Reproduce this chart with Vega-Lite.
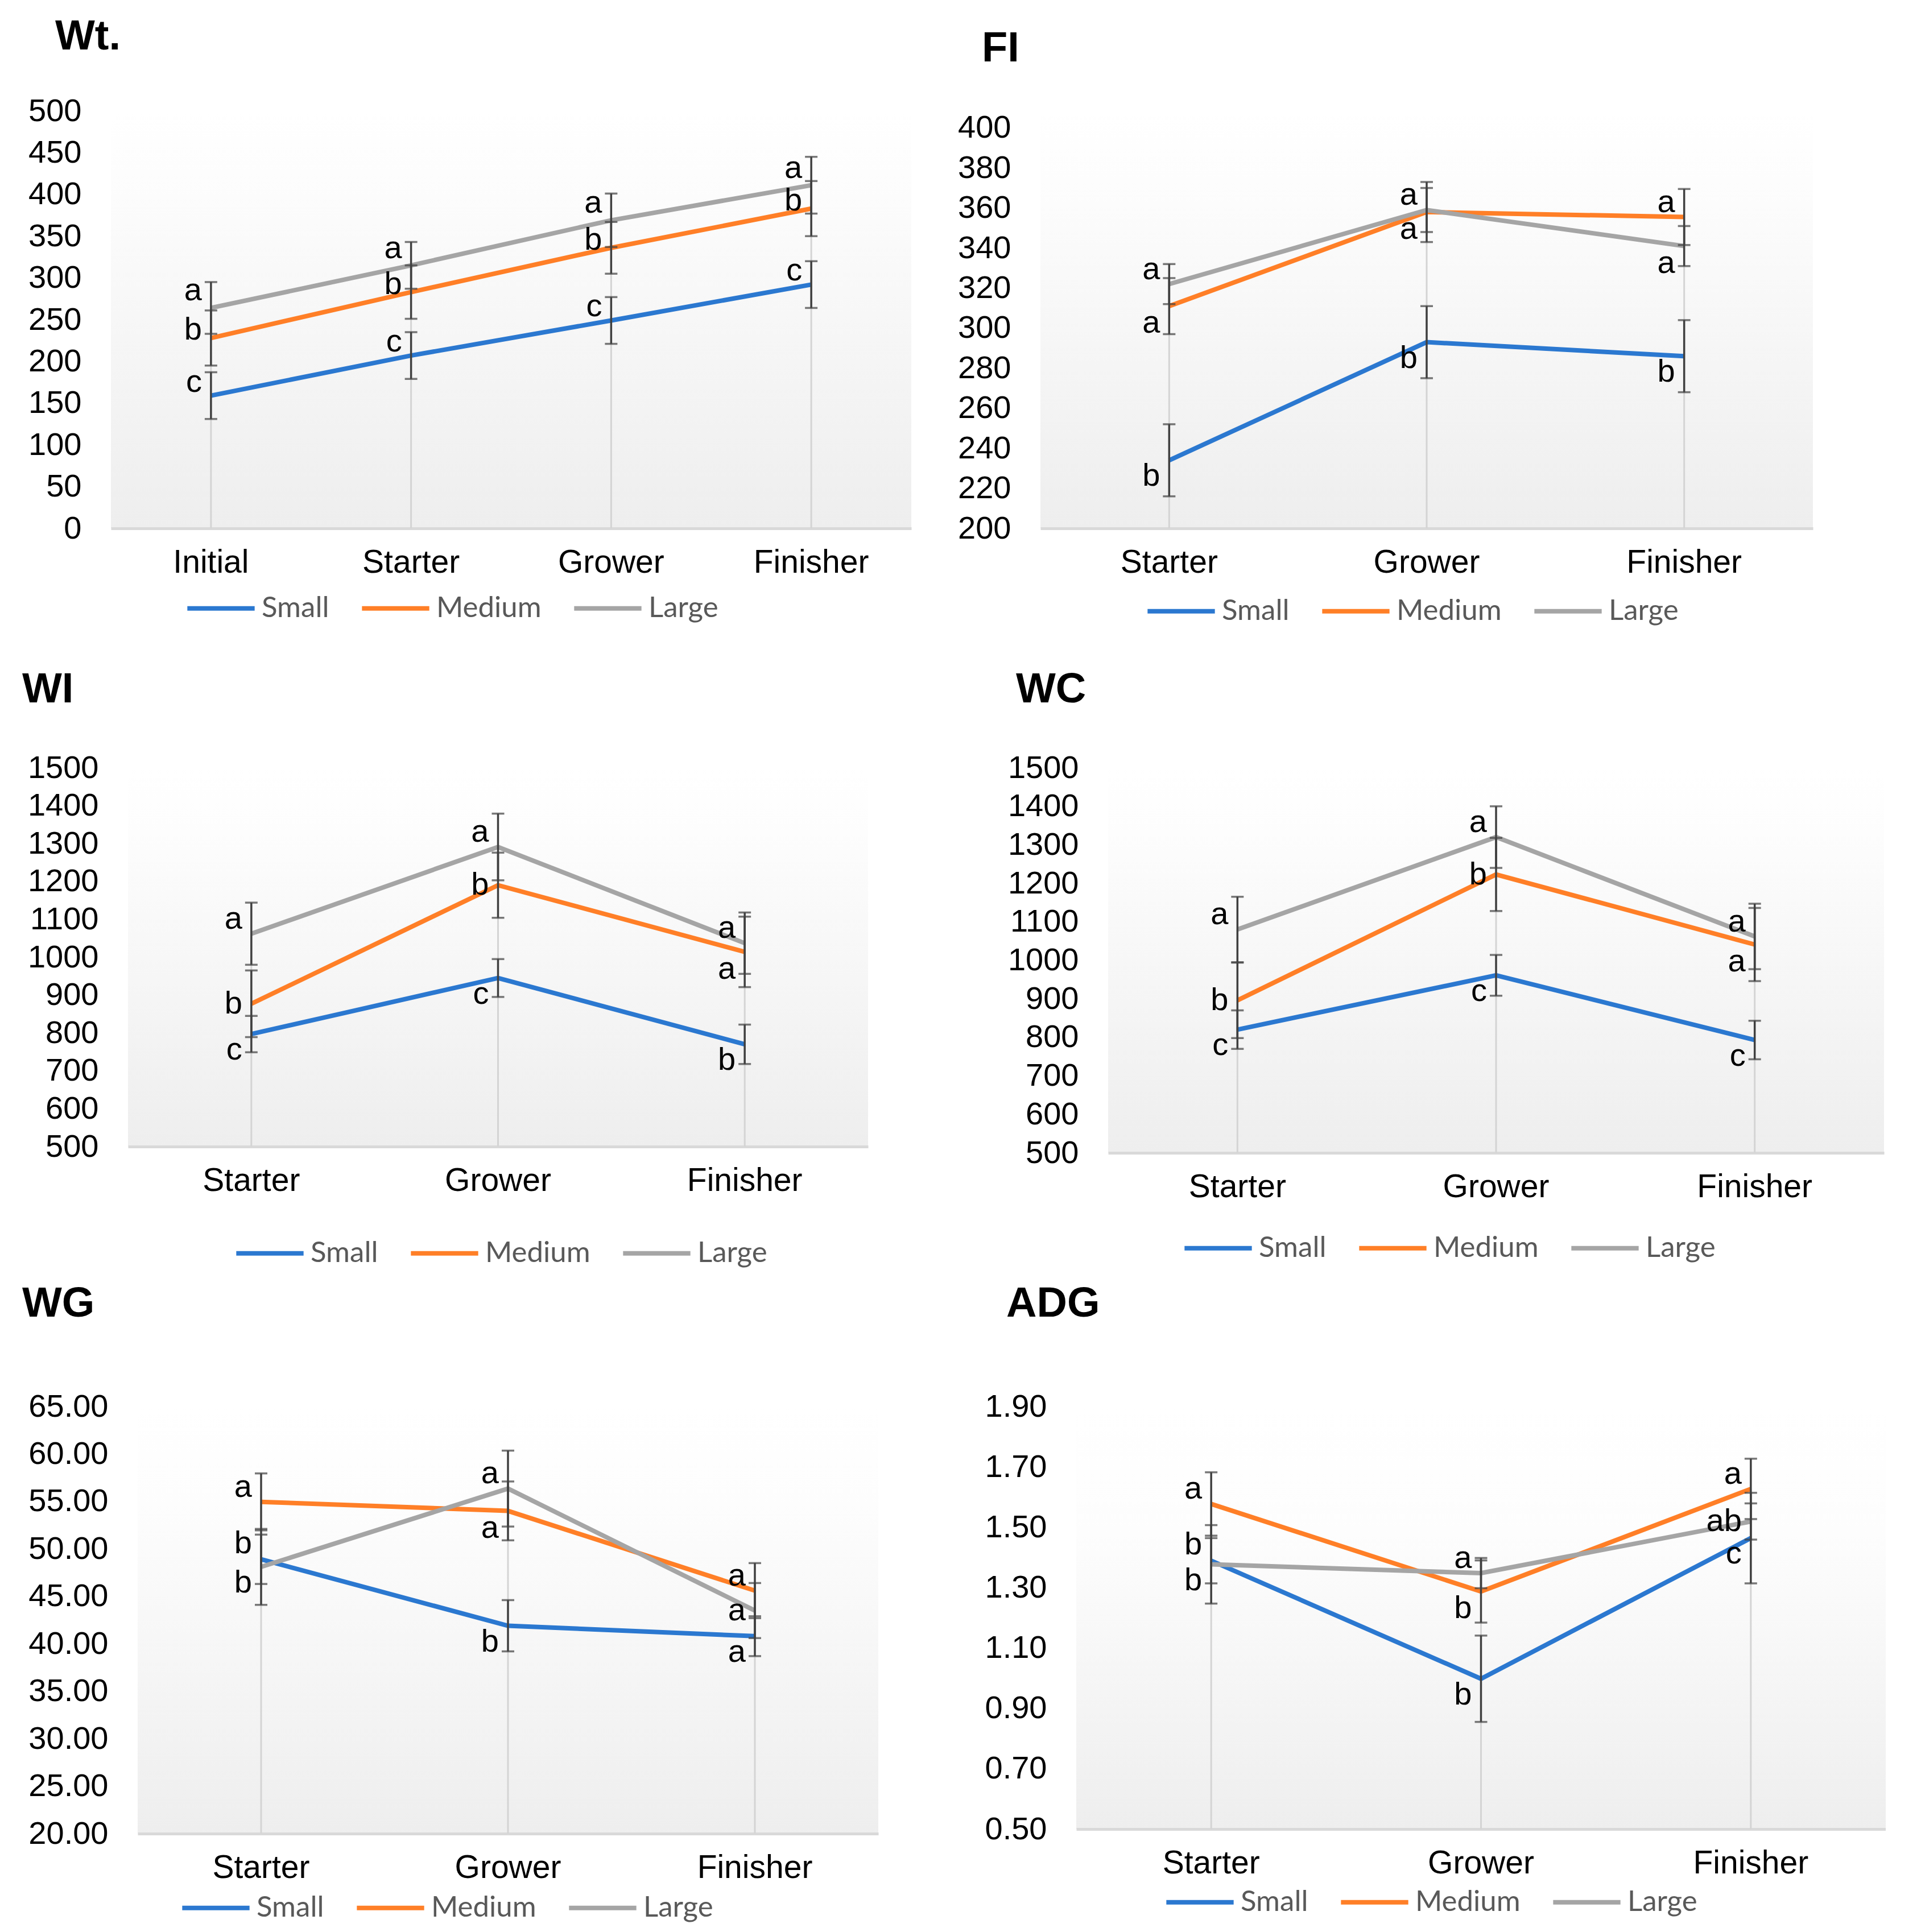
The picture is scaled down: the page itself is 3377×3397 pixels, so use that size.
{
"$schema": "https://vega.github.io/schema/vega-lite/v6.json",
"padding": {"top": 28, "left": 0, "right": 0, "bottom": 0},
"background": "#ffffff",
"datasets": {
"d": [
{"p":"Wt","s":"Initial","g":"Small","v":159,"e":28,"l":"c"},
{"p":"Wt","s":"Initial","g":"Medium","v":228,"e":33,"l":"b"},
{"p":"Wt","s":"Initial","g":"Large","v":264,"e":31,"l":"a"},
{"p":"Wt","s":"Starter","g":"Small","v":207,"e":28,"l":"c"},
{"p":"Wt","s":"Starter","g":"Medium","v":283,"e":32,"l":"b"},
{"p":"Wt","s":"Starter","g":"Large","v":315,"e":28,"l":"a"},
{"p":"Wt","s":"Grower","g":"Small","v":249,"e":28,"l":"c"},
{"p":"Wt","s":"Grower","g":"Medium","v":336,"e":31,"l":"b"},
{"p":"Wt","s":"Grower","g":"Large","v":369,"e":32,"l":"a"},
{"p":"Wt","s":"Finisher","g":"Small","v":292,"e":28,"l":"c"},
{"p":"Wt","s":"Finisher","g":"Medium","v":383,"e":33,"l":"b"},
{"p":"Wt","s":"Finisher","g":"Large","v":411,"e":34,"l":"a"},
{"p":"FI","s":"Starter","g":"Small","v":234,"e":18,"l":"b"},
{"p":"FI","s":"Starter","g":"Medium","v":311,"e":14,"l":"a"},
{"p":"FI","s":"Starter","g":"Large","v":322,"e":10,"l":"a"},
{"p":"FI","s":"Grower","g":"Small","v":293,"e":18,"l":"b"},
{"p":"FI","s":"Grower","g":"Medium","v":358,"e":15,"l":"a"},
{"p":"FI","s":"Grower","g":"Large","v":359,"e":11,"l":"a"},
{"p":"FI","s":"Finisher","g":"Small","v":286,"e":18,"l":"b"},
{"p":"FI","s":"Finisher","g":"Medium","v":355.5,"e":14,"l":"a"},
{"p":"FI","s":"Finisher","g":"Large","v":341,"e":10,"l":"a"},
{"p":"WI","s":"Starter","g":"Small","v":797,"e":48,"l":"c"},
{"p":"WI","s":"Starter","g":"Medium","v":877,"e":88,"l":"b"},
{"p":"WI","s":"Starter","g":"Large","v":1062,"e":82,"l":"a"},
{"p":"WI","s":"Grower","g":"Small","v":945,"e":50,"l":"c"},
{"p":"WI","s":"Grower","g":"Medium","v":1190,"e":86,"l":"b"},
{"p":"WI","s":"Grower","g":"Large","v":1291,"e":88,"l":"a"},
{"p":"WI","s":"Finisher","g":"Small","v":770,"e":52,"l":"b"},
{"p":"WI","s":"Finisher","g":"Medium","v":1014,"e":93,"l":"a"},
{"p":"WI","s":"Finisher","g":"Large","v":1037,"e":81,"l":"a"},
{"p":"WC","s":"Starter","g":"Small","v":820,"e":50,"l":"c"},
{"p":"WC","s":"Starter","g":"Medium","v":896,"e":98,"l":"b"},
{"p":"WC","s":"Starter","g":"Large","v":1080,"e":85,"l":"a"},
{"p":"WC","s":"Grower","g":"Small","v":961,"e":53,"l":"c"},
{"p":"WC","s":"Grower","g":"Medium","v":1223,"e":95,"l":"b"},
{"p":"WC","s":"Grower","g":"Large","v":1320,"e":80,"l":"a"},
{"p":"WC","s":"Finisher","g":"Small","v":793,"e":50,"l":"c"},
{"p":"WC","s":"Finisher","g":"Medium","v":1041,"e":95,"l":"a"},
{"p":"WC","s":"Finisher","g":"Large","v":1062,"e":85,"l":"a"},
{"p":"WG","s":"Starter","g":"Small","v":48.9,"e":2.6,"l":"b"},
{"p":"WG","s":"Starter","g":"Medium","v":54.95,"e":3.0,"l":"a"},
{"p":"WG","s":"Starter","g":"Large","v":48.1,"e":4.0,"l":"b"},
{"p":"WG","s":"Grower","g":"Small","v":41.9,"e":2.7,"l":"b"},
{"p":"WG","s":"Grower","g":"Medium","v":54.0,"e":3.1,"l":"a"},
{"p":"WG","s":"Grower","g":"Large","v":56.35,"e":4.0,"l":"a"},
{"p":"WG","s":"Finisher","g":"Small","v":40.8,"e":2.1,"l":"a"},
{"p":"WG","s":"Finisher","g":"Medium","v":45.6,"e":2.9,"l":"a"},
{"p":"WG","s":"Finisher","g":"Large","v":43.5,"e":2.9,"l":"a"},
{"p":"ADG","s":"Starter","g":"Small","v":1.389,"e":0.075,"l":"b"},
{"p":"ADG","s":"Starter","g":"Medium","v":1.577,"e":0.105,"l":"a"},
{"p":"ADG","s":"Starter","g":"Large","v":1.377,"e":0.13,"l":"b"},
{"p":"ADG","s":"Grower","g":"Small","v":0.998,"e":0.143,"l":"b"},
{"p":"ADG","s":"Grower","g":"Medium","v":1.287,"e":0.103,"l":"b"},
{"p":"ADG","s":"Grower","g":"Large","v":1.348,"e":0.05,"l":"a"},
{"p":"ADG","s":"Finisher","g":"Small","v":1.464,"e":0.15,"l":"c"},
{"p":"ADG","s":"Finisher","g":"Medium","v":1.627,"e":0.10,"l":"a"},
{"p":"ADG","s":"Finisher","g":"Large","v":1.519,"e":0.06,"l":"ab"}
],
"sp": [{"z":0}]
},
"bounds": "full",
"spacing": 0,
"resolve": {"scale": {"color": "independent"}},
"vconcat": [
{"hconcat": [
{"width": 195, "height": 981, "data": {"name": "sp"}, "mark": {"type": "point", "opacity": 0}},
{
"width": 1407, "height": 734,
"view": {"stroke": null, "fill": {"gradient": "linear", "x1": 0, "y1": 0, "x2": 0, "y2": 1, "stops": [{"offset": 0, "color": "#ffffff"}, {"offset": 0.15, "color": "#fdfdfd"}, {"offset": 1, "color": "#eeeeee"}]}},
"title": {"text": "Wt.", "dx": -98, "offset": 64},
"data": {"name": "d"},
"transform": [{"filter": "datum.p === 'Wt'"}],
"encoding": {
"x": {"field": "s", "type": "nominal", "sort": ["Initial", "Starter", "Grower", "Finisher"], "title": null},
"y": {"field": "v", "type": "quantitative", "title": null, "scale": {"domain": [0, 500], "nice": false, "zero": false}, "axis": {"values": [0, 50, 100, 150, 200, 250, 300, 350, 400, 450, 500]}}
},
"layer": [
{"mark": {"type": "rule", "color": "#d4d4d4", "strokeWidth": 3},
 "encoding": {"y": {"aggregate": "max", "field": "v", "type": "quantitative", "title": null, "scale": {"domain": [0, 500], "nice": false, "zero": false}, "axis": {"values": [0, 50, 100, 150, 200, 250, 300, 350, 400, 450, 500]}}, "y2": {"datum": 0}}},
{"mark": {"type": "line", "strokeWidth": 8},
 "encoding": {"color": {"field": "g", "type": "nominal", "scale": {"domain": ["Small", "Medium", "Large"], "range": ["#2B78D0", "#FF7F27", "#A5A5A5"]}, "legend": {"title": null, "legendX": 130, "legendY": 811}}}},
{"mark": {"type": "errorbar", "ticks": true, "size": 22, "thickness": 3.5, "color": "#404040"},
 "encoding": {"yError": {"field": "e"}}},
{"transform": [{"window": [{"op": "rank", "as": "rk"}], "groupby": ["s"], "sort": [{"field": "v", "order": "descending"}]}],
 "layer": [
  {"transform": [{"filter": "datum.rk === 1"}], "mark": {"type": "text", "align": "right", "baseline": "middle", "dx": -16, "dy": -30}, "encoding": {"text": {"field": "l"}}},
  {"transform": [{"filter": "datum.rk === 2"}], "mark": {"type": "text", "align": "right", "baseline": "middle", "dx": -16, "dy": -14}, "encoding": {"text": {"field": "l"}}},
  {"transform": [{"filter": "datum.rk === 3"}], "mark": {"type": "text", "align": "right", "baseline": "middle", "dx": -16, "dy": -24}, "encoding": {"text": {"field": "l"}}}
 ]}
]
},
{"width": 227, "height": 1, "data": {"name": "sp"}, "mark": {"type": "point", "opacity": 0}},
{
"width": 1358, "height": 734,
"view": {"stroke": null, "fill": {"gradient": "linear", "x1": 0, "y1": 0, "x2": 0, "y2": 1, "stops": [{"offset": 0, "color": "#ffffff"}, {"offset": 0.17, "color": "#fdfdfd"}, {"offset": 1, "color": "#eeeeee"}]}},
"title": {"text": "FI", "dx": -103, "offset": 71},
"data": {"name": "d"},
"transform": [{"filter": "datum.p === 'FI'"}],
"encoding": {
"x": {"field": "s", "type": "nominal", "sort": ["Starter", "Grower", "Finisher"], "title": null},
"y": {"field": "v", "type": "quantitative", "title": null, "scale": {"domain": [200, 408.5], "nice": false, "zero": false}, "axis": {"values": [200, 220, 240, 260, 280, 300, 320, 340, 360, 380, 400]}}
},
"layer": [
{"mark": {"type": "rule", "color": "#d4d4d4", "strokeWidth": 3},
 "encoding": {"y": {"aggregate": "max", "field": "v", "type": "quantitative", "title": null, "scale": {"domain": [200, 408.5], "nice": false, "zero": false}, "axis": {"values": [200, 220, 240, 260, 280, 300, 320, 340, 360, 380, 400]}}, "y2": {"datum": 200}}},
{"mark": {"type": "line", "strokeWidth": 8},
 "encoding": {"color": {"field": "g", "type": "nominal", "scale": {"domain": ["Small", "Medium", "Large"], "range": ["#2B78D0", "#FF7F27", "#A5A5A5"]}, "legend": {"title": null, "legendX": 184, "legendY": 816}}}},
{"mark": {"type": "errorbar", "ticks": true, "size": 22, "thickness": 3.5, "color": "#404040"},
 "encoding": {"yError": {"field": "e"}}},
{"transform": [{"window": [{"op": "rank", "as": "rk"}, {"op": "lag", "field": "v", "as": "hi"}, {"op": "lead", "field": "v", "as": "lo"}], "groupby": ["s"], "sort": [{"field": "v", "order": "descending"}]}],
 "layer": [
  {"transform": [{"filter": "datum.rk === 1"}], "mark": {"type": "text", "align": "right", "baseline": "middle", "dx": -16, "dy": -26}, "encoding": {"text": {"field": "l"}}},
  {"transform": [{"filter": "datum.rk === 3"}], "mark": {"type": "text", "align": "right", "baseline": "middle", "dx": -16, "dy": 28}, "encoding": {"text": {"field": "l"}}},
  {"transform": [{"filter": "datum.rk === 2 && min(datum.hi - datum.v, datum.v - datum.lo) >= 0.25 * (datum.hi - datum.lo)"}], "mark": {"type": "text", "align": "right", "baseline": "middle", "dx": -16, "dy": 0}, "encoding": {"text": {"field": "l"}}},
  {"transform": [{"filter": "datum.rk === 2 && datum.hi - datum.v < 0.25 * (datum.hi - datum.lo) && datum.hi - datum.v <= datum.v - datum.lo"}], "mark": {"type": "text", "align": "right", "baseline": "middle", "dx": -16, "dy": 30}, "encoding": {"text": {"field": "l"}}},
  {"transform": [{"filter": "datum.rk === 2 && datum.v - datum.lo < 0.25 * (datum.hi - datum.lo) && datum.v - datum.lo < datum.hi - datum.v"}], "mark": {"type": "text", "align": "right", "baseline": "middle", "dx": -16, "dy": -28}, "encoding": {"text": {"field": "l"}}}
 ]}
]
}
], "bounds": "flush", "spacing": 0, "resolve": {"scale": {"color": "independent"}}},

{"hconcat": [
{"width": 225, "height": 906, "data": {"name": "sp"}, "mark": {"type": "point", "opacity": 0}},
{
"width": 1301, "height": 666,
"view": {"stroke": null, "fill": {"gradient": "linear", "x1": 0, "y1": 0, "x2": 0, "y2": 1, "stops": [{"offset": 0, "color": "#ffffff"}, {"offset": 0.17, "color": "#fdfdfd"}, {"offset": 1, "color": "#eeeeee"}]}},
"title": {"text": "WI", "dx": -186, "offset": 71},
"data": {"name": "d"},
"transform": [{"filter": "datum.p === 'WI'"}],
"encoding": {
"x": {"field": "s", "type": "nominal", "sort": ["Starter", "Grower", "Finisher"], "title": null},
"y": {"field": "v", "type": "quantitative", "title": null, "scale": {"domain": [500, 1500], "nice": false, "zero": false}, "axis": {"values": [500, 600, 700, 800, 900, 1000, 1100, 1200, 1300, 1400, 1500], "format": "d"}}
},
"layer": [
{"mark": {"type": "rule", "color": "#d4d4d4", "strokeWidth": 3},
 "encoding": {"y": {"aggregate": "max", "field": "v", "type": "quantitative", "title": null, "scale": {"domain": [500, 1500], "nice": false, "zero": false}, "axis": {"values": [500, 600, 700, 800, 900, 1000, 1100, 1200, 1300, 1400, 1500], "format": "d"}}, "y2": {"datum": 500}}},
{"mark": {"type": "line", "strokeWidth": 8},
 "encoding": {"color": {"field": "g", "type": "nominal", "scale": {"domain": ["Small", "Medium", "Large"], "range": ["#2B78D0", "#FF7F27", "#A5A5A5"]}, "legend": {"title": null, "legendX": 186, "legendY": 790}}}},
{"mark": {"type": "errorbar", "ticks": true, "size": 22, "thickness": 3.5, "color": "#404040"},
 "encoding": {"yError": {"field": "e"}}},
{"transform": [{"window": [{"op": "rank", "as": "rk"}, {"op": "lag", "field": "v", "as": "hi"}, {"op": "lead", "field": "v", "as": "lo"}], "groupby": ["s"], "sort": [{"field": "v", "order": "descending"}]}],
 "layer": [
  {"transform": [{"filter": "datum.rk === 1"}], "mark": {"type": "text", "align": "right", "baseline": "middle", "dx": -16, "dy": -26}, "encoding": {"text": {"field": "l"}}},
  {"transform": [{"filter": "datum.rk === 3"}], "mark": {"type": "text", "align": "right", "baseline": "middle", "dx": -16, "dy": 28}, "encoding": {"text": {"field": "l"}}},
  {"transform": [{"filter": "datum.rk === 2 && min(datum.hi - datum.v, datum.v - datum.lo) >= 0.25 * (datum.hi - datum.lo)"}], "mark": {"type": "text", "align": "right", "baseline": "middle", "dx": -16, "dy": 0}, "encoding": {"text": {"field": "l"}}},
  {"transform": [{"filter": "datum.rk === 2 && datum.hi - datum.v < 0.25 * (datum.hi - datum.lo) && datum.hi - datum.v <= datum.v - datum.lo"}], "mark": {"type": "text", "align": "right", "baseline": "middle", "dx": -16, "dy": 30}, "encoding": {"text": {"field": "l"}}},
  {"transform": [{"filter": "datum.rk === 2 && datum.v - datum.lo < 0.25 * (datum.hi - datum.lo) && datum.v - datum.lo < datum.hi - datum.v"}], "mark": {"type": "text", "align": "right", "baseline": "middle", "dx": -16, "dy": -28}, "encoding": {"text": {"field": "l"}}}
 ]}
]
},
{"width": 422, "height": 1, "data": {"name": "sp"}, "mark": {"type": "point", "opacity": 0}},
{
"width": 1364, "height": 677,
"view": {"stroke": null, "fill": {"gradient": "linear", "x1": 0, "y1": 0, "x2": 0, "y2": 1, "stops": [{"offset": 0, "color": "#ffffff"}, {"offset": 0.17, "color": "#fdfdfd"}, {"offset": 1, "color": "#eeeeee"}]}},
"title": {"text": "WC", "dx": -162, "offset": 71},
"data": {"name": "d"},
"transform": [{"filter": "datum.p === 'WC'"}],
"encoding": {
"x": {"field": "s", "type": "nominal", "sort": ["Starter", "Grower", "Finisher"], "title": null},
"y": {"field": "v", "type": "quantitative", "title": null, "scale": {"domain": [500, 1500], "nice": false, "zero": false}, "axis": {"values": [500, 600, 700, 800, 900, 1000, 1100, 1200, 1300, 1400, 1500], "format": "d"}}
},
"layer": [
{"mark": {"type": "rule", "color": "#d4d4d4", "strokeWidth": 3},
 "encoding": {"y": {"aggregate": "max", "field": "v", "type": "quantitative", "title": null, "scale": {"domain": [500, 1500], "nice": false, "zero": false}, "axis": {"values": [500, 600, 700, 800, 900, 1000, 1100, 1200, 1300, 1400, 1500], "format": "d"}}, "y2": {"datum": 500}}},
{"mark": {"type": "line", "strokeWidth": 8},
 "encoding": {"color": {"field": "g", "type": "nominal", "scale": {"domain": ["Small", "Medium", "Large"], "range": ["#2B78D0", "#FF7F27", "#A5A5A5"]}, "legend": {"title": null, "legendX": 130, "legendY": 781}}}},
{"mark": {"type": "errorbar", "ticks": true, "size": 22, "thickness": 3.5, "color": "#404040"},
 "encoding": {"yError": {"field": "e"}}},
{"transform": [{"window": [{"op": "rank", "as": "rk"}, {"op": "lag", "field": "v", "as": "hi"}, {"op": "lead", "field": "v", "as": "lo"}], "groupby": ["s"], "sort": [{"field": "v", "order": "descending"}]}],
 "layer": [
  {"transform": [{"filter": "datum.rk === 1"}], "mark": {"type": "text", "align": "right", "baseline": "middle", "dx": -16, "dy": -26}, "encoding": {"text": {"field": "l"}}},
  {"transform": [{"filter": "datum.rk === 3"}], "mark": {"type": "text", "align": "right", "baseline": "middle", "dx": -16, "dy": 28}, "encoding": {"text": {"field": "l"}}},
  {"transform": [{"filter": "datum.rk === 2 && min(datum.hi - datum.v, datum.v - datum.lo) >= 0.25 * (datum.hi - datum.lo)"}], "mark": {"type": "text", "align": "right", "baseline": "middle", "dx": -16, "dy": 0}, "encoding": {"text": {"field": "l"}}},
  {"transform": [{"filter": "datum.rk === 2 && datum.hi - datum.v < 0.25 * (datum.hi - datum.lo) && datum.hi - datum.v <= datum.v - datum.lo"}], "mark": {"type": "text", "align": "right", "baseline": "middle", "dx": -16, "dy": 30}, "encoding": {"text": {"field": "l"}}},
  {"transform": [{"filter": "datum.rk === 2 && datum.v - datum.lo < 0.25 * (datum.hi - datum.lo) && datum.v - datum.lo < datum.hi - datum.v"}], "mark": {"type": "text", "align": "right", "baseline": "middle", "dx": -16, "dy": -28}, "encoding": {"text": {"field": "l"}}}
 ]}
]
}
], "bounds": "flush", "spacing": 0, "resolve": {"scale": {"color": "independent"}}},

{"hconcat": [
{"width": 242, "height": 927, "data": {"name": "sp"}, "mark": {"type": "point", "opacity": 0}},
{
"width": 1302, "height": 751,
"view": {"stroke": null, "fill": {"gradient": "linear", "x1": 0, "y1": 0, "x2": 0, "y2": 1, "stops": [{"offset": 0, "color": "#ffffff"}, {"offset": 0.23, "color": "#fdfdfd"}, {"offset": 1, "color": "#eeeeee"}]}},
"title": {"text": "WG", "dx": -203, "offset": 114},
"data": {"name": "d"},
"transform": [{"filter": "datum.p === 'WG'"}],
"encoding": {
"x": {"field": "s", "type": "nominal", "sort": ["Starter", "Grower", "Finisher"], "title": null},
"y": {"field": "v", "type": "quantitative", "title": null, "scale": {"domain": [20, 65], "nice": false, "zero": false}, "axis": {"values": [20, 25, 30, 35, 40, 45, 50, 55, 60, 65], "format": ".2f"}}
},
"layer": [
{"mark": {"type": "rule", "color": "#d4d4d4", "strokeWidth": 3},
 "encoding": {"y": {"aggregate": "max", "field": "v", "type": "quantitative", "title": null, "scale": {"domain": [20, 65], "nice": false, "zero": false}, "axis": {"values": [20, 25, 30, 35, 40, 45, 50, 55, 60, 65], "format": ".2f"}}, "y2": {"datum": 20}}},
{"mark": {"type": "line", "strokeWidth": 8},
 "encoding": {"color": {"field": "g", "type": "nominal", "scale": {"domain": ["Small", "Medium", "Large"], "range": ["#2B78D0", "#FF7F27", "#A5A5A5"]}, "legend": {"title": null, "legendX": 74, "legendY": 818}}}},
{"mark": {"type": "errorbar", "ticks": true, "size": 22, "thickness": 3.5, "color": "#404040"},
 "encoding": {"yError": {"field": "e"}}},
{"transform": [{"window": [{"op": "rank", "as": "rk"}, {"op": "lag", "field": "v", "as": "hi"}, {"op": "lead", "field": "v", "as": "lo"}], "groupby": ["s"], "sort": [{"field": "v", "order": "descending"}]}],
 "layer": [
  {"transform": [{"filter": "datum.rk === 1"}], "mark": {"type": "text", "align": "right", "baseline": "middle", "dx": -16, "dy": -26}, "encoding": {"text": {"field": "l"}}},
  {"transform": [{"filter": "datum.rk === 3"}], "mark": {"type": "text", "align": "right", "baseline": "middle", "dx": -16, "dy": 28}, "encoding": {"text": {"field": "l"}}},
  {"transform": [{"filter": "datum.rk === 2 && min(datum.hi - datum.v, datum.v - datum.lo) >= 0.25 * (datum.hi - datum.lo)"}], "mark": {"type": "text", "align": "right", "baseline": "middle", "dx": -16, "dy": 0}, "encoding": {"text": {"field": "l"}}},
  {"transform": [{"filter": "datum.rk === 2 && datum.hi - datum.v < 0.25 * (datum.hi - datum.lo) && datum.hi - datum.v <= datum.v - datum.lo"}], "mark": {"type": "text", "align": "right", "baseline": "middle", "dx": -16, "dy": 30}, "encoding": {"text": {"field": "l"}}},
  {"transform": [{"filter": "datum.rk === 2 && datum.v - datum.lo < 0.25 * (datum.hi - datum.lo) && datum.v - datum.lo < datum.hi - datum.v"}], "mark": {"type": "text", "align": "right", "baseline": "middle", "dx": -16, "dy": -28}, "encoding": {"text": {"field": "l"}}}
 ]}
]
},
{"width": 348, "height": 1, "data": {"name": "sp"}, "mark": {"type": "point", "opacity": 0}},
{
"width": 1423, "height": 743,
"view": {"stroke": null, "fill": {"gradient": "linear", "x1": 0, "y1": 0, "x2": 0, "y2": 1, "stops": [{"offset": 0, "color": "#ffffff"}, {"offset": 0.3, "color": "#fdfdfd"}, {"offset": 1, "color": "#eeeeee"}]}},
"title": {"text": "ADG", "dx": -123, "offset": 114},
"data": {"name": "d"},
"transform": [{"filter": "datum.p === 'ADG'"}],
"encoding": {
"x": {"field": "s", "type": "nominal", "sort": ["Starter", "Grower", "Finisher"], "title": null},
"y": {"field": "v", "type": "quantitative", "title": null, "scale": {"domain": [0.5, 1.9], "nice": false, "zero": false}, "axis": {"values": [0.5, 0.7, 0.9, 1.1, 1.3, 1.5, 1.7, 1.9], "format": ".2f"}}
},
"layer": [
{"mark": {"type": "rule", "color": "#d4d4d4", "strokeWidth": 3},
 "encoding": {"y": {"aggregate": "max", "field": "v", "type": "quantitative", "title": null, "scale": {"domain": [0.5, 1.9], "nice": false, "zero": false}, "axis": {"values": [0.5, 0.7, 0.9, 1.1, 1.3, 1.5, 1.7, 1.9], "format": ".2f"}}, "y2": {"datum": 0.5}}},
{"mark": {"type": "line", "strokeWidth": 8},
 "encoding": {"color": {"field": "g", "type": "nominal", "scale": {"domain": ["Small", "Medium", "Large"], "range": ["#2B78D0", "#FF7F27", "#A5A5A5"]}, "legend": {"title": null, "legendX": 154, "legendY": 808}}}},
{"mark": {"type": "errorbar", "ticks": true, "size": 22, "thickness": 3.5, "color": "#404040"},
 "encoding": {"yError": {"field": "e"}}},
{"transform": [{"window": [{"op": "rank", "as": "rk"}, {"op": "lag", "field": "v", "as": "hi"}, {"op": "lead", "field": "v", "as": "lo"}], "groupby": ["s"], "sort": [{"field": "v", "order": "descending"}]}],
 "layer": [
  {"transform": [{"filter": "datum.rk === 1"}], "mark": {"type": "text", "align": "right", "baseline": "middle", "dx": -16, "dy": -26}, "encoding": {"text": {"field": "l"}}},
  {"transform": [{"filter": "datum.rk === 3"}], "mark": {"type": "text", "align": "right", "baseline": "middle", "dx": -16, "dy": 28}, "encoding": {"text": {"field": "l"}}},
  {"transform": [{"filter": "datum.rk === 2 && min(datum.hi - datum.v, datum.v - datum.lo) >= 0.25 * (datum.hi - datum.lo)"}], "mark": {"type": "text", "align": "right", "baseline": "middle", "dx": -16, "dy": 0}, "encoding": {"text": {"field": "l"}}},
  {"transform": [{"filter": "datum.rk === 2 && datum.hi - datum.v < 0.25 * (datum.hi - datum.lo) && datum.hi - datum.v <= datum.v - datum.lo"}], "mark": {"type": "text", "align": "right", "baseline": "middle", "dx": -16, "dy": 30}, "encoding": {"text": {"field": "l"}}},
  {"transform": [{"filter": "datum.rk === 2 && datum.v - datum.lo < 0.25 * (datum.hi - datum.lo) && datum.v - datum.lo < datum.hi - datum.v"}], "mark": {"type": "text", "align": "right", "baseline": "middle", "dx": -16, "dy": -28}, "encoding": {"text": {"field": "l"}}}
 ]}
]
}
], "bounds": "flush", "spacing": 0, "resolve": {"scale": {"color": "independent"}}}
],
"config": {
"view": {"stroke": null},
"font": "Liberation Sans",
"axis": {"labelFont": "Liberation Sans", "labelColor": "#000000", "ticks": false, "grid": false, "labelLimit": 0},
"axisX": {"domainColor": "#d9d9d9", "domainWidth": 5, "labelPadding": 32, "labelAngle": 0, "labelFontSize": 57},
"axisY": {"domain": false, "labelPadding": 52, "labelFontSize": 56},
"legend": {"orient": "none", "direction": "horizontal", "symbolType": "stroke", "symbolSize": 14000, "symbolStrokeWidth": 8, "labelFont": "Lato", "labelFontSize": 51, "labelColor": "#595959", "labelOffset": 8, "columnPadding": 41, "labelLimit": 0},
"title": {"anchor": "start", "frame": "group", "font": "Liberation Sans", "fontSize": 74, "fontWeight": "bold", "color": "#000000"},
"text": {"font": "Liberation Sans", "fontSize": 56, "color": "#000000"}
}
}
